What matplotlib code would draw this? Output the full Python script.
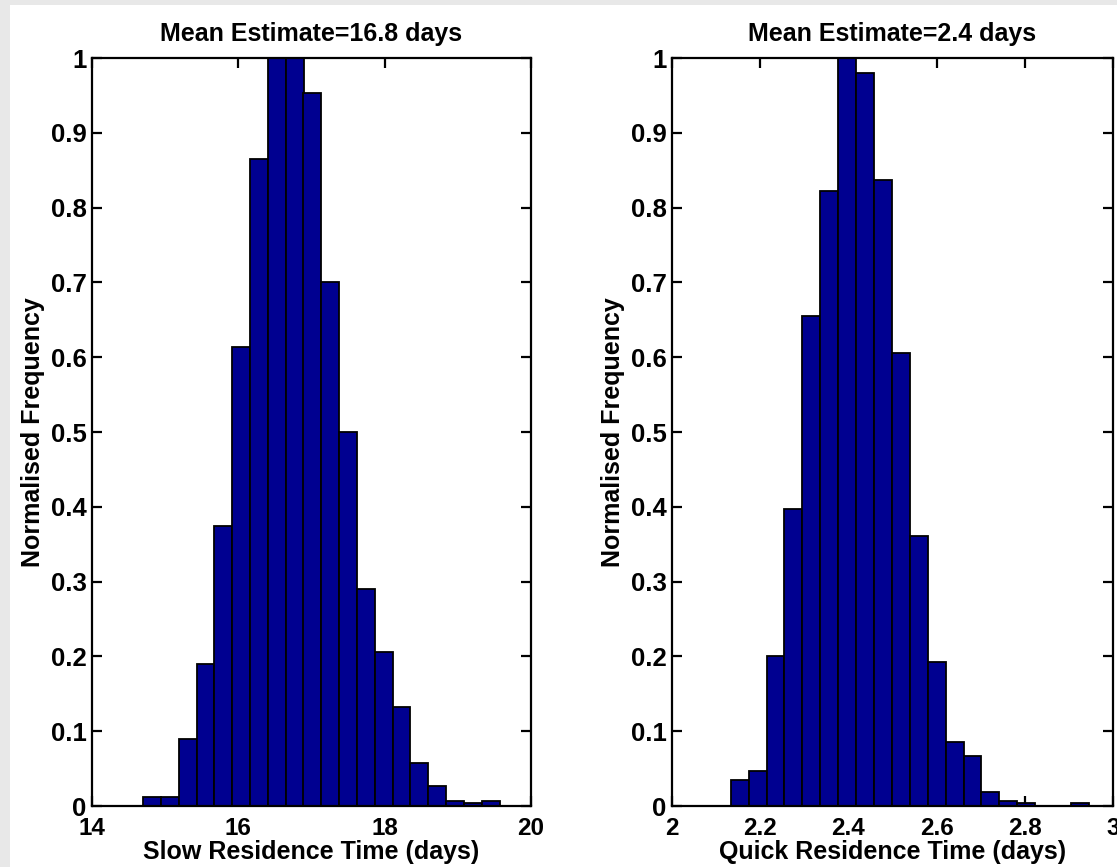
import numpy as np
import matplotlib.pyplot as plt
from matplotlib.patches import Rectangle

# Bootstrap histograms of the two residence times (bin centres and normalised counts)
slow_centres = [14.820, 15.064, 15.307, 15.551, 15.794, 16.038, 16.282, 16.525,
                16.769, 17.012, 17.256, 17.500, 17.743, 17.987, 18.230, 18.474,
                18.718, 18.961, 19.205, 19.449]
slow_freq = [0.012, 0.012, 0.090, 0.190, 0.374, 0.613, 0.865, 1.000,
             1.000, 0.953, 0.700, 0.500, 0.290, 0.206, 0.133, 0.057,
             0.027, 0.007, 0.004, 0.007]

quick_centres = [2.1535, 2.1941, 2.2347, 2.2753, 2.3159, 2.3565, 2.3971, 2.4377,
                 2.4783, 2.5189, 2.5595, 2.6001, 2.6407, 2.6813, 2.7219, 2.7625,
                 2.8031, 2.8437, 2.8843, 2.9249]
quick_freq = [0.035, 0.047, 0.200, 0.397, 0.655, 0.822, 1.000, 0.980,
              0.837, 0.605, 0.361, 0.192, 0.085, 0.067, 0.019, 0.007,
              0.004, 0.000, 0.000, 0.004]

slow_mean = 16.8
quick_mean = 2.4

slow_xticks = [14, 16, 18, 20]
slow_xlabels = ['14', '16', '18', '20']
quick_xticks = [2, 2.2, 2.4, 2.6, 2.8, 3]
quick_xlabels = ['2', '2.2', '2.4', '2.6', '2.8', '3']
yticks = [0, 0.1, 0.2, 0.3, 0.4, 0.5, 0.6, 0.7, 0.8, 0.9, 1]
ylabels = ['0', '0.1', '0.2', '0.3', '0.4', '0.5', '0.6', '0.7', '0.8', '0.9', '1']

BAR_COLOR = '#000090'
FONT = 'Liberation Sans'

plt.rcParams['font.family'] = FONT
plt.rcParams['font.weight'] = 'bold'

W, H = 1117, 867
fig = plt.figure(figsize=(W / 100, H / 100), dpi=100, facecolor='#e8e8e8')
# white canvas inset from the grey frame
fig.patches.append(Rectangle((10 / W, 0), 1 - 10 / W, 1 - 5 / H,
                             transform=fig.transFigure, facecolor='white',
                             edgecolor='none', zorder=-10))


def draw_hist(rect, centres, freq, xlim, xticks, xlabels, xlabel, mean):
    ax = fig.add_axes(rect)
    width = centres[1] - centres[0]
    ax.bar(centres, freq, width=width, color=BAR_COLOR, edgecolor='black',
           linewidth=1.3, align='center')
    ax.set_xlim(*xlim)
    ax.set_ylim(0, 1)
    ax.set_axisbelow(True)
    ax.set_xticks(xticks)
    ax.set_xticklabels(xlabels)
    ax.set_yticks(yticks)
    ax.set_yticklabels(ylabels)
    ax.tick_params(direction='in', top=True, right=True, length=7, width=1.6)
    ax.tick_params(axis='x', pad=8, labelsize=17.5)
    ax.tick_params(axis='y', pad=4, labelsize=18.5)
    for s in ax.spines.values():
        s.set_linewidth(1.6)
    ax.set_xlabel(xlabel, fontsize=18, fontweight='bold', labelpad=0)
    ax.set_ylabel('Normalised Frequency', fontsize=18, fontweight='bold', labelpad=4)
    ax.set_title(f'Mean Estimate={mean} days', fontsize=18, fontweight='bold', pad=12)
    return ax


draw_hist([92 / W, 1 - 806 / H, 439 / W, 748 / H], slow_centres, slow_freq,
          (14, 20), slow_xticks, slow_xlabels, 'Slow Residence Time (days)', slow_mean)
draw_hist([672 / W, 1 - 806 / H, 441 / W, 748 / H], quick_centres, quick_freq,
          (2, 3), quick_xticks, quick_xlabels, 'Quick Residence Time (days)', quick_mean)

fig.savefig('out.png', dpi=100, facecolor=fig.get_facecolor())
